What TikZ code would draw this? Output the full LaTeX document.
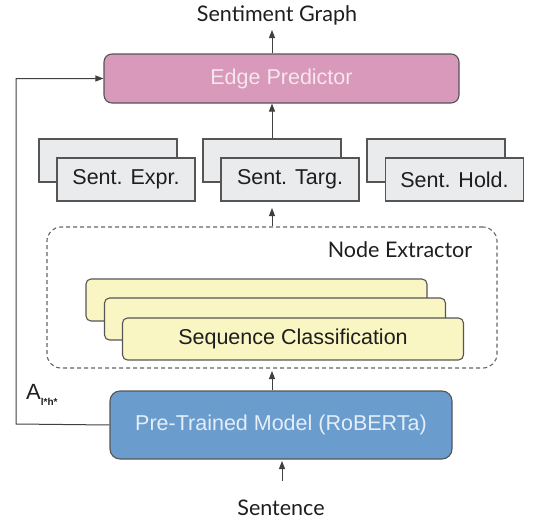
\documentclass[tikz,border=0pt]{standalone}
\usepackage{fontspec}
\setmainfont{Liberation Sans}
\newfontfamily\latofont{Lato}
\usetikzlibrary{arrows.meta}
\definecolor{pinkfill}{RGB}{216,153,187}
\definecolor{pinktext}{RGB}{246,230,238}
\definecolor{bluefill}{RGB}{106,156,205}
\definecolor{bluetext}{RGB}{228,238,248}
\definecolor{grayfill}{RGB}{233,235,237}
\definecolor{yellowfill}{RGB}{250,246,196}
\definecolor{strokecol}{RGB}{85,85,85}
\definecolor{txtcol}{RGB}{30,30,30}
\tikzset{
  boxfont/.style={font=\fontsize{21.5}{24}\selectfont},
  labfont/.style={font=\latofont\fontsize{21.5}{24}\selectfont, text=txtcol},
  edgebox/.style={draw=strokecol, line width=1.1pt, fill=pinkfill, rounded corners=8pt, boxfont, text=pinktext, minimum width=355pt, minimum height=49pt, inner sep=0pt},
  ptbox/.style={draw=strokecol, line width=1.1pt, fill=bluefill, rounded corners=10pt, boxfont, text=bluetext, minimum width=342pt, minimum height=68pt, inner sep=0pt},
  graybox/.style={draw=strokecol, line width=1.1pt, fill=grayfill, boxfont, text=txtcol, minimum width=138pt, minimum height=43pt, inner sep=0pt},
  yelbox/.style={draw=strokecol, line width=1.1pt, fill=yellowfill, rounded corners=5pt, boxfont, text=txtcol, minimum width=341pt, minimum height=42pt, inner sep=0pt},
  dashbox/.style={draw=strokecol!90, line width=1.1pt, dash pattern=on 4pt off 3pt, rounded corners=14pt, minimum width=450pt, minimum height=141pt, inner sep=0pt},
  arr/.style={draw=txtcol!85, line width=1pt, -{Triangle[length=8pt,width=6pt]}},
}
\begin{document}
\begin{tikzpicture}[x=1pt,y=-1pt]
\useasboundingbox (0,0) rectangle (542,522);

\node[labfont] (sg) at (277,15) {Sentiment Graph};
\node[edgebox] (ep) at (281.5,78.5) {Edge Predictor};

\node[graybox] (b1) at (108,160.5) {};
\node[graybox] (f1) at (126,179.5) {Sent. Expr.};
\node[graybox] (b2) at (272,160.5) {};
\node[graybox] (f2) at (290,179.5) {Sent. Targ.};
\node[graybox] (b3) at (436,160.5) {};
\node[graybox] (f3) at (454.5,179.5) {Sent. Hold.};

\node[dashbox] (ne) at (272,297.5) {};
\node[labfont, anchor=center] (nel) at (400,250) {Node Extractor};

\node[yelbox] (y1) at (256.5,300) {};
\node[yelbox] (y2) at (275,319) {};
\node[yelbox] (y3) at (293,339) {Sequence Classification};

\node[ptbox] (pt) at (281,425) {Pre-Trained Model (RoBERTa)};
\node[labfont] (sen) at (281,508) {Sentence};

\node[anchor=south west, inner sep=0pt, text=txtcol] (al) at (26,406) {\fontsize{22}{22}\selectfont A\raisebox{-6pt}{\fontsize{10}{10}\selectfont\bfseries l*h*}};

\coordinate (c0) at (272,30);
\draw[arr] (ep.north -| c0) -- (c0);
\draw[arr] (b2.north) -- (ep.south -| b2.north);
\coordinate (c2) at (272,208);
\draw[arr] (ne.north) -- (c2);
\coordinate (c3) at (272,371);
\draw[arr] (pt.north -| c3) -- (c3);
\coordinate (c4) at (282,481);
\coordinate (c5) at (282,461);
\draw[arr] (c4) -- (c5);

\coordinate (lc) at (16,424);
\draw[arr] (pt.west) -- (lc) |- (ep.west);
\end{tikzpicture}
\end{document}
